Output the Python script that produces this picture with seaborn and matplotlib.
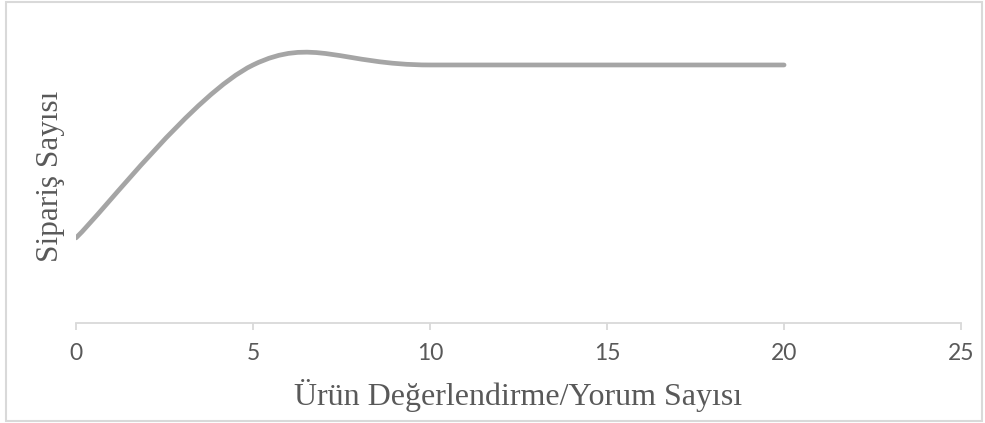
import numpy as np
import matplotlib
matplotlib.use("Agg")
import matplotlib.pyplot as plt
import seaborn as sns
from matplotlib.path import Path
from matplotlib.patches import PathPatch, Rectangle

# data (y axis has no scale, so units are arbitrary)
review_counts = [0, 5, 10, 20]
order_counts = [33, 100, 100, 100]
x_ticks = [0, 5, 10, 15, 20, 25]

sns.set_style("white")

fig = plt.figure(figsize=(9.85, 4.23), dpi=100)
ax = fig.add_axes([0.0772, 0.2364, 0.8985, 0.732])

# excel-style smoothed line: cubic bezier with catmull-rom control points
pts = np.column_stack([review_counts, order_counts]).astype(float)
verts = [pts[0]]
codes = [Path.MOVETO]
n = len(pts)
for i in range(n - 1):
    p_prev = pts[i - 1] if i > 0 else pts[i]
    p_next2 = pts[i + 2] if i + 2 < n else pts[i + 1]
    c1 = pts[i] + (pts[i + 1] - p_prev) / 6
    c2 = pts[i + 1] - (p_next2 - pts[i]) / 6
    verts += [c1, c2, pts[i + 1]]
    codes += [Path.CURVE4] * 3
curve = PathPatch(Path(verts, codes), facecolor="none", edgecolor="#A5A5A5",
                  lw=3.4, capstyle="round", joinstyle="round")
ax.add_patch(curve)

ax.set_xlim(0, 25)
ax.set_ylim(0, 120)
ax.set_xticks(x_ticks)
ax.set_yticks([])
sns.despine(ax=ax, left=True, top=True, right=True)
ax.spines["bottom"].set_color("#D9D9D9")
ax.spines["bottom"].set_linewidth(1.3)
ax.tick_params(axis="x", bottom=True, direction="out", length=5, width=1.3,
               color="#D9D9D9", labelcolor="#595959", labelsize=16.5, pad=9.5)
for lbl in ax.get_xticklabels():
    lbl.set_fontfamily("Lato")

ax.set_xlabel("Ürün Değerlendirme/Yorum Sayısı", fontfamily="Liberation Serif",
              fontsize=23, color="#595959", va="baseline")
ax.xaxis.set_label_coords(0.5, -0.265)
ax.set_ylabel("Sipariş Sayısı", fontfamily="Liberation Serif",
              fontsize=22.5, color="#595959")
ax.yaxis.set_label_coords(-0.012, 0.475)

fig.patches.append(Rectangle((0.006, 0.005), 0.991, 0.99, transform=fig.transFigure,
                             fill=False, edgecolor="#D9D9D9", lw=1.5))

fig.savefig("out.png", dpi=100)
